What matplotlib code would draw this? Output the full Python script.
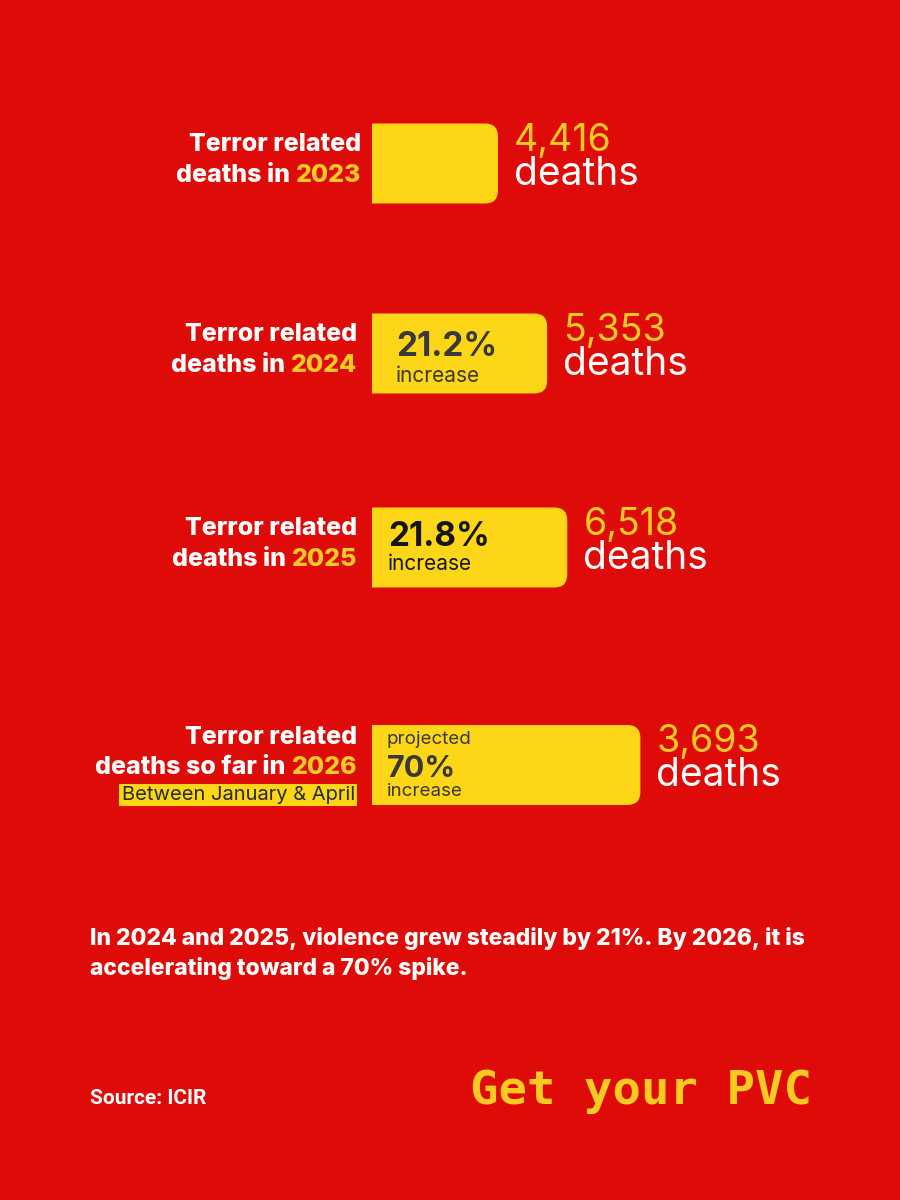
import matplotlib
matplotlib.use("Agg")
import matplotlib.pyplot as plt
from matplotlib.patches import FancyBboxPatch

# data
years = ["2023", "2024", "2025", "2026"]
deaths = [4416, 5353, 6518, 3693]
increase = [None, "21.2%", "21.8%", "70%"]
bar_values = [100, 139, 155, 213]  # relative bar length, 2023 = 100
note_2026 = "Between January & April"
summary = ["In 2024 and 2025, violence grew steadily by 21%. By 2026, it is",
           "accelerating toward a 70% spike."]
source = "Source: ICIR"
slogan = "Get your PVC"

RED = "#DF0B08"
YELLOW = "#FCD617"
YTEXT = "#F9CB22"
WHITE = "#FFFFFF"
FONT = ["Inter", "DejaVu Sans"]
PT = 0.72  # points per pixel at 100 dpi

# row layout (pixels from the top)
row_center = [163.5, 353.5, 547.5, 765]
bar_h = 80
px_per_unit = 1.26

fig = plt.figure(figsize=(9, 12), dpi=100, facecolor=RED)
bg = fig.add_axes([0, 0, 1, 1])
bg.set_xlim(0, 900)
bg.set_ylim(1200, 0)
bg.axis("off")
bg.set_facecolor(RED)

xmax = 300
ax = fig.add_axes([372 / 900, 0, xmax * px_per_unit / 900, 1])
ax.set_xlim(0, xmax)
ax.set_ylim(1200, 0)
ax.axis("off")
ax.patch.set_alpha(0)

renderer = fig.canvas.get_renderer()

# bars: rounded box starting left of the axes, clipped so the left side stays square
radius_px = 13
rx = radius_px / px_per_unit
for y, v in zip(row_center, bar_values):
    top = y - bar_h / 2
    p = FancyBboxPatch((-2 * rx, top), v + 2 * rx, bar_h,
                       boxstyle=f"round,pad=0,rounding_size={rx}",
                       mutation_aspect=radius_px / rx,
                       fc=YELLOW, ec="none")
    ax.add_patch(p)
    p.set_clip_box(ax.bbox)

# big numbers to the right of each bar
for y, v, d in zip(row_center, bar_values, deaths):
    ax.annotate(f"{d:,}", (v, y - 23), xytext=(16 * PT, 0), textcoords="offset points",
                ha="left", va="center", color=YTEXT, fontsize=27,
                family=FONT, annotation_clip=False)
    ax.annotate("deaths", (v, y + 11), xytext=(16 * PT, 0), textcoords="offset points",
                ha="left", va="center", color=WHITE, fontsize=28,
                family=FONT, annotation_clip=False)

# text inside the bars: (kind, dy px, fontsize, weight, colour, x offset px)
inside = {
    1: [("pct", -6, 24, "bold", "#3A3838", 24), ("increase", 22, 15, "normal", "#3A3838", 24)],
    2: [("pct", -10, 24, "bold", "#161616", 16), ("increase", 16, 15, "normal", "#161616", 16)],
    3: [("projected", -26, 13.5, "normal", "#3A3838", 15), ("pct", 4, 22, "bold", "#3A3838", 15),
        ("increase", 27, 13.5, "normal", "#3A3838", 15)],
}
for i, items in inside.items():
    for s, dy, fs, w, c, dx in items:
        if s == "pct":
            s = increase[i]
        ax.annotate(s, (0, row_center[i] + dy), xytext=(dx * PT, 0),
                    textcoords="offset points", ha="left", va="center",
                    fontsize=fs, fontweight=w, color=c, family=FONT)


def right_line(x, y, parts, **kw):
    # right-aligned line made of differently coloured pieces
    for s, c in reversed(parts):
        t = bg.text(x, y, s, ha="right", va="center", color=c, **kw)
        bb = t.get_window_extent(renderer)
        x = bb.x0 - 6


label_kw = dict(fontsize=18, fontweight="heavy", family=FONT)
label_right = [361, 357, 357, 357]
for i, y in enumerate(row_center[:3]):
    right_line(label_right[i], y - 19, [("Terror related", WHITE)], **label_kw)
    right_line(label_right[i], y + 12, [("deaths in", WHITE), (years[i], YTEXT)], **label_kw)

y = row_center[3]
right_line(357, y - 28, [("Terror related", WHITE)], **label_kw)
right_line(357, y + 3, [("deaths so far in", WHITE), (years[3], YTEXT)], **label_kw)
bg.text(355, y + 30, note_2026, ha="right", va="center", fontsize=14.5,
        color="#2A2A2A", family=FONT,
        bbox=dict(boxstyle="square,pad=0.12", fc=YELLOW, ec="none"))

# summary text
for k, line in enumerate(summary):
    bg.text(90, 938 + k * 31, line, ha="left", va="center", color=WHITE,
            fontsize=16.5, fontweight="heavy", family=FONT)

bg.text(90, 1098, source, ha="left", va="center", color=WHITE,
        fontsize=15, fontweight="bold", family=["Roboto", "DejaVu Sans"])
bg.text(470, 1091, slogan, ha="left", va="center", color=YTEXT,
        fontsize=34, fontweight="bold", family="DejaVu Sans Mono")

fig.savefig("out.png", dpi=100, facecolor=RED)
